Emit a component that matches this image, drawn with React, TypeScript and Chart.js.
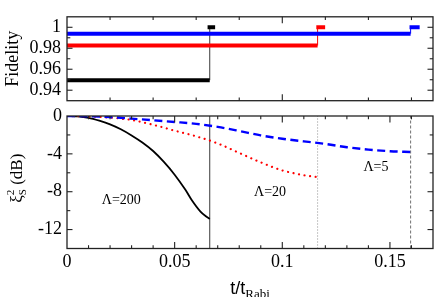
import React, { useEffect, useRef } from "react";
import { Chart, registerables } from "chart.js";

Chart.register(...registerables);

// ---------------- data ----------------
const timeRange = [0, 0.17];
const fidelityRange = [0.93, 1.01];
const xiRange = [-14, 0];

const timeTicks = [0, 0.05, 0.1, 0.15];
const fidelityTicks = [0.94, 0.96, 0.98, 1];
const xiTicks = [0, -4, -8, -12];

const seriesNames = ["Λ=200", "Λ=20", "Λ=5"];
const seriesColors = ["#000000", "#ff0000", "#0000ff"];
const guideColors = ["#3a3a3a", "#8c8c8c", "#707070"];

// end of each evolution (vertical markers)
const endTimes = [0.0663, 0.1164, 0.1596];
// fidelity before / after
const fidelityBefore = [0.9496, 0.9826, 0.9939];
const fidelityAfter = [1.0, 1.0, 1.0];
const afterStart = [0.0653, 0.1158, 0.1591];
const afterEnd = [0.0688, 0.1199, 0.1638];

// squeezing curves (dB)
const tBlack = [0, 0.005, 0.01, 0.015, 0.02, 0.025, 0.03, 0.035, 0.04, 0.045, 0.05, 0.055, 0.058, 0.062, 0.0645, 0.0663];
const xiBlack = [0, -0.05, -0.2, -0.5, -0.88, -1.4, -2.05, -2.8, -3.7, -4.85, -6.2, -7.8, -8.9, -10.1, -10.6, -10.87];

const tRed = [0, 0.01, 0.02, 0.03, 0.04, 0.05, 0.06, 0.07, 0.08, 0.09, 0.1, 0.11, 0.1164];
const xiRed = [0, -0.05, -0.17, -0.42, -0.93, -1.55, -2.15, -2.9, -3.9, -4.9, -5.75, -6.25, -6.45];

const tBlue = [0, 0.01, 0.02, 0.03, 0.04, 0.05, 0.06, 0.07, 0.08, 0.09, 0.1, 0.11, 0.12, 0.13, 0.14, 0.15, 0.1596];
const xiBlue = [0, -0.03, -0.12, -0.28, -0.45, -0.63, -0.83, -1.15, -1.58, -2.05, -2.4, -2.68, -2.95, -3.3, -3.55, -3.72, -3.8];

// label anchors (data coordinates)
const labelT = [0.0252, 0.0943, 0.1435];
const labelXi = [-8.95, -8.07, -5.38];

// ---------------- helpers ----------------
const SERIF = "'Liberation Serif', 'Times New Roman', serif";
const SANS = "'Liberation Sans', Arial, sans-serif";

const W = 436;
const H = 297;

function tickValues(min: number, max: number, step: number) {
  const out: number[] = [];
  const start = Math.ceil(min / step - 1e-6);
  const end = Math.floor(max / step + 1e-6);
  for (let i = start; i <= end; i++) out.push(i * step);
  return out;
}

function makeFrame(xMajor: number, xMinor: number, yMajor: number, yMinor: number) {
  return {
    id: "frame",
    afterDraw(chart: any) {
      const { ctx, chartArea: a, scales } = chart;
      const xs = scales.x;
      const ys = scales.y;
      ctx.save();
      ctx.strokeStyle = "#222";
      ctx.lineWidth = 1.1;
      const seg = (x1: number, y1: number, x2: number, y2: number) => {
        ctx.beginPath();
        ctx.moveTo(x1, y1);
        ctx.lineTo(x2, y2);
        ctx.stroke();
      };
      const isMajor = (v: number, step: number) => Math.abs(v / step - Math.round(v / step)) < 1e-6;
      for (const v of tickValues(xs.min, xs.max, xMinor)) {
        const len = isMajor(v, xMajor) ? 6.5 : 3.3;
        const p = xs.getPixelForValue(v);
        if (p <= a.left + 0.5 || p >= a.right - 0.5) continue;
        seg(p, a.bottom, p, a.bottom - len);
        seg(p, a.top, p, a.top + len);
      }
      for (const v of tickValues(ys.min, ys.max, yMinor)) {
        const len = isMajor(v, yMajor) ? 5.5 : 3.3;
        const p = ys.getPixelForValue(v);
        if (p <= a.top + 0.5 || p >= a.bottom - 0.5) continue;
        seg(a.left, p, a.left + len, p);
        seg(a.right, p, a.right - len, p);
      }
      ctx.lineWidth = 1.3;
      ctx.strokeRect(a.left, a.top, a.right - a.left, a.bottom - a.top);
      ctx.restore();
    },
  };
}

const topTitle = {
  id: "topTitle",
  afterDraw(chart: any) {
    const { ctx, chartArea: a } = chart;
    ctx.save();
    ctx.translate(17.5, (a.top + a.bottom) / 2);
    ctx.rotate(-Math.PI / 2);
    ctx.font = `18px ${SERIF}`;
    ctx.fillStyle = "#000";
    ctx.textAlign = "center";
    ctx.textBaseline = "alphabetic";
    ctx.fillText("Fidelity", 0, 0);
    ctx.restore();
  },
};

const bottomTitles = {
  id: "bottomTitles",
  afterDraw(chart: any) {
    const { ctx, chartArea: a, scales } = chart;
    ctx.save();
    ctx.fillStyle = "#000";
    ctx.textBaseline = "alphabetic";
    ctx.textAlign = "left";

    // y title: xi^2_S (dB), rotated
    const mainFont = `17px ${SERIF}`;
    const smallFont = `11px ${SERIF}`;
    ctx.font = mainFont;
    const wXi = ctx.measureText("ξ").width;
    const wRest = ctx.measureText(" (dB)").width;
    ctx.font = smallFont;
    const wSS = Math.max(ctx.measureText("2").width, ctx.measureText("S").width);
    const total = wXi + wSS + wRest;
    ctx.save();
    ctx.translate(22, (a.top + a.bottom) / 2 - 4);
    ctx.rotate(-Math.PI / 2);
    let x = -total / 2;
    ctx.font = mainFont;
    ctx.fillText("ξ", x, 0);
    x += wXi;
    ctx.font = smallFont;
    ctx.fillText("2", x, -8);
    ctx.fillText("S", x, 4);
    x += wSS;
    ctx.font = mainFont;
    ctx.fillText(" (dB)", x, 0);
    ctx.restore();

    // x title: t/t_Rabi
    const f1 = `18px ${SANS}`;
    const f2 = `13px ${SERIF}`;
    ctx.font = f1;
    const w1 = ctx.measureText("t/t").width;
    ctx.font = f2;
    const w2 = ctx.measureText("Rabi").width;
    const cx = (a.left + a.right) / 2;
    let sx = cx - (w1 + w2) / 2;
    ctx.font = f1;
    ctx.fillText("t/t", sx, 294);
    ctx.font = f2;
    ctx.fillText("Rabi", sx + w1, 297.5);

    // Lambda labels
    ctx.font = `14px ${SERIF}`;
    ctx.textAlign = "center";
    ctx.textBaseline = "middle";
    seriesNames.forEach((name, i) => {
      ctx.fillText(name, scales.x.getPixelForValue(labelT[i]), scales.y.getPixelForValue(labelXi[i]));
    });
    ctx.restore();
  },
};

function topDatasets() {
  const ds: any[] = [];
  endTimes.forEach((tEnd, i) => {
    const order = 2 - i;
    ds.push({
      data: [
        { x: timeRange[0], y: fidelityBefore[i] },
        { x: tEnd, y: fidelityBefore[i] },
      ],
      borderColor: seriesColors[i],
      borderWidth: 4,
      order,
    });
    ds.push({
      data: [
        { x: tEnd, y: fidelityBefore[i] },
        { x: tEnd, y: fidelityAfter[i] },
      ],
      borderColor: i === 0 ? guideColors[0] : seriesColors[i],
      borderWidth: 1,
      order: order + 3,
    });
    ds.push({
      data: [
        { x: afterStart[i], y: fidelityAfter[i] },
        { x: afterEnd[i], y: fidelityAfter[i] },
      ],
      borderColor: seriesColors[i],
      borderWidth: 4,
      order,
    });
  });
  return ds;
}

function bottomDatasets() {
  const pts = (t: number[], v: number[]) => t.map((x, k) => ({ x, y: v[k] }));
  const guideDash = [[], [1, 2], [3, 2]];
  const ds: any[] = [
    {
      data: pts(tBlack, xiBlack),
      borderColor: seriesColors[0],
      borderWidth: 1.8,
      cubicInterpolationMode: "monotone",
      order: 2,
    },
    {
      data: pts(tRed, xiRed),
      borderColor: seriesColors[1],
      borderWidth: 2.2,
      borderDash: [0.01, 5.6],
      borderCapStyle: "round",
      cubicInterpolationMode: "monotone",
      order: 1,
    },
    {
      data: pts(tBlue, xiBlue),
      borderColor: seriesColors[2],
      borderWidth: 2.4,
      borderDash: [8, 4.5],
      cubicInterpolationMode: "monotone",
      order: 0,
    },
  ];
  endTimes.forEach((tEnd, i) => {
    ds.push({
      data: [
        { x: tEnd, y: xiRange[0] },
        { x: tEnd, y: xiRange[1] },
      ],
      borderColor: guideColors[i],
      borderWidth: 1,
      borderDash: guideDash[i],
      order: 5,
    });
  });
  return ds;
}

const yTickFont = { family: SERIF, size: 18 };

export default function App() {
  const topRef = useRef<HTMLCanvasElement | null>(null);
  const botRef = useRef<HTMLCanvasElement | null>(null);

  useEffect(() => {
    const common = {
      animation: false,
      responsive: false,
      devicePixelRatio: 1,
      plugins: { legend: { display: false }, tooltip: { enabled: false } },
      elements: { point: { radius: 0 }, line: { tension: 0 } },
    };
    const top = new Chart(topRef.current as HTMLCanvasElement, {
      type: "line",
      data: { datasets: topDatasets() },
      options: {
        ...common,
        layout: { padding: { top: 1.5, right: 3, bottom: 196.3, left: 0 } },
        scales: {
          x: { type: "linear", min: timeRange[0], max: timeRange[1], display: false },
          y: {
            type: "linear",
            min: fidelityRange[0],
            max: fidelityRange[1],
            afterFit: (s: any) => {
              s.width = 67;
            },
            afterBuildTicks: (s: any) => {
              s.ticks = fidelityTicks.map((value) => ({ value }));
            },
            grid: { display: false, drawTicks: false },
            border: { display: false },
            ticks: { padding: 6, color: "#000", font: yTickFont, callback: (v: any) => String(v) },
          },
        },
      } as any,
      plugins: [makeFrame(0.1, 0.02, 0.02, 0.01), topTitle],
    } as any);

    const bottom = new Chart(botRef.current as HTMLCanvasElement, {
      type: "line",
      data: { datasets: bottomDatasets() },
      options: {
        ...common,
        layout: { padding: { top: 116, right: 3, bottom: 0, left: 0 } },
        scales: {
          x: {
            type: "linear",
            min: timeRange[0],
            max: timeRange[1],
            afterFit: (s: any) => {
              s.height = 48.5;
            },
            afterBuildTicks: (s: any) => {
              s.ticks = timeTicks.map((value) => ({ value }));
            },
            grid: { display: false, drawTicks: false },
            border: { display: false },
            ticks: { padding: 3, color: "#000", font: yTickFont, maxRotation: 0, callback: (v: any) => String(v) },
          },
          y: {
            type: "linear",
            min: xiRange[0],
            max: xiRange[1],
            afterFit: (s: any) => {
              s.width = 67;
            },
            afterBuildTicks: (s: any) => {
              s.ticks = xiTicks.map((value) => ({ value }));
            },
            grid: { display: false, drawTicks: false },
            border: { display: false },
            ticks: { padding: 5, color: "#000", font: yTickFont, callback: (v: any) => String(v) },
          },
        },
      } as any,
      plugins: [makeFrame(0.05, 0.01, 4, 2), bottomTitles],
    } as any);

    return () => {
      top.destroy();
      bottom.destroy();
    };
  }, []);

  const canvasStyle: React.CSSProperties = {
    position: "absolute",
    left: 0,
    top: 0,
    width: W,
    height: H,
  };

  return (
    <div style={{ position: "fixed", left: 0, top: 0, width: W, height: H, background: "#fff" }}>
      <canvas ref={topRef} width={W} height={H} style={canvasStyle} />
      <canvas ref={botRef} width={W} height={H} style={canvasStyle} />
    </div>
  );
}
